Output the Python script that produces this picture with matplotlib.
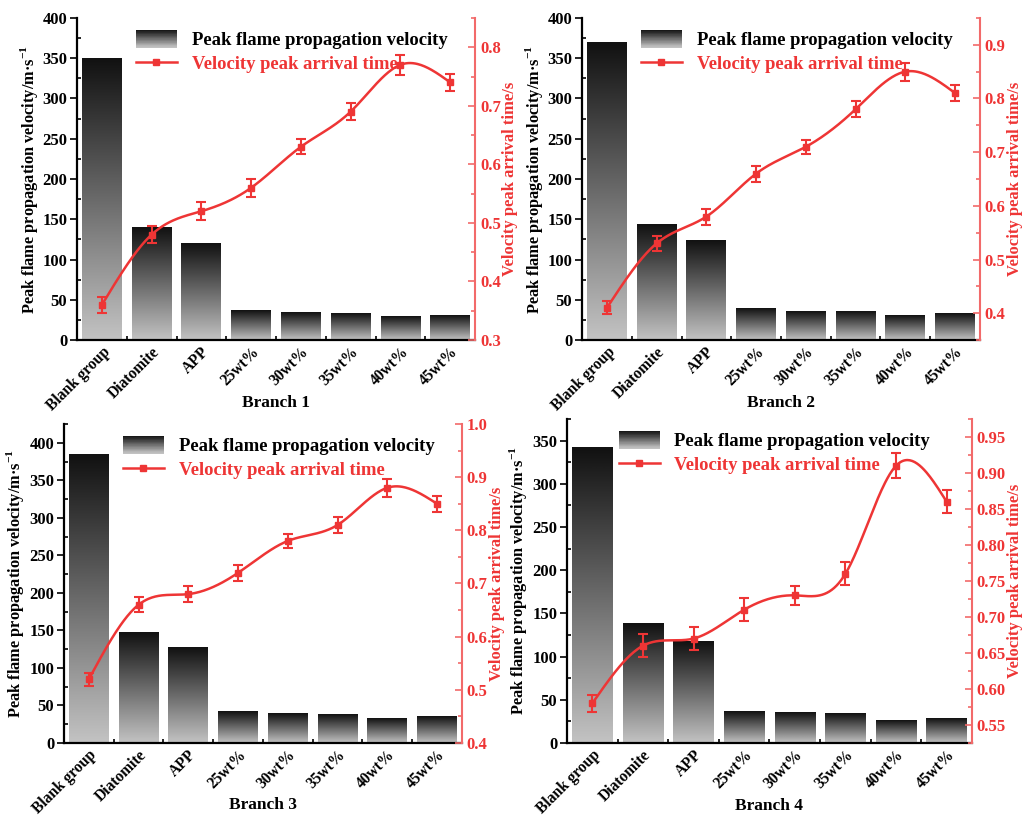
import matplotlib
matplotlib.use("Agg")
import matplotlib.pyplot as plt
import matplotlib.transforms as mtransforms
import numpy as np
from matplotlib.legend_handler import HandlerBase
from matplotlib.lines import Line2D
from matplotlib.patches import Patch, Rectangle
from matplotlib.ticker import MultipleLocator

plt.rcParams["font.family"] = ["Liberation Serif", "DejaVu Serif"]
plt.rcParams["font.weight"] = "bold"
plt.rcParams["axes.labelweight"] = "bold"
plt.rcParams["mathtext.fontset"] = "custom"
plt.rcParams["mathtext.bf"] = "Liberation Serif:bold"

# ── Data ───────────────────────────────────────────────────────────────────────
categories = ["Blank group", "Diatomite", "APP", "25wt%", "30wt%",
              "35wt%", "40wt%", "45wt%"]
branches = ["Branch 1", "Branch 2", "Branch 3", "Branch 4"]

velocity_b1 = [349, 140, 120, 37, 34, 33, 29, 31]
velocity_b2 = [369, 144, 124, 39, 36, 36, 30, 33]
velocity_b3 = [385, 147, 127, 42, 39, 38, 32, 35]
velocity_b4 = [342, 138, 118, 36, 35, 34, 26, 28]

time_b1 = [0.36, 0.48, 0.52, 0.56, 0.63, 0.69, 0.77, 0.74]
time_b2 = [0.41, 0.53, 0.58, 0.66, 0.71, 0.78, 0.85, 0.81]
time_b3 = [0.52, 0.66, 0.68, 0.72, 0.78, 0.81, 0.88, 0.85]
time_b4 = [0.58, 0.66, 0.67, 0.71, 0.73, 0.76, 0.91, 0.86]

err_b1 = [0.013, 0.015, 0.015, 0.015, 0.013, 0.015, 0.017, 0.015]
err_b2 = [0.012, 0.014, 0.015, 0.015, 0.013, 0.015, 0.017, 0.015]
err_b3 = [0.012, 0.014, 0.015, 0.015, 0.013, 0.015, 0.017, 0.015]
err_b4 = [0.012, 0.016, 0.016, 0.016, 0.013, 0.016, 0.017, 0.016]

velocities = [velocity_b1, velocity_b2, velocity_b3, velocity_b4]
times = [time_b1, time_b2, time_b3, time_b4]
errors = [err_b1, err_b2, err_b3, err_b4]

# axes rectangles (figure fraction) and axis settings per panel
AX_RECTS = [
    [0.0752, 0.5833, 0.3887, 0.3947],
    [0.5684, 0.5833, 0.3886, 0.3947],
    [0.0625, 0.0895, 0.3885, 0.3909],
    [0.5537, 0.0895, 0.3955, 0.3971],
]
LEFT_LIM = [(0, 400), (0, 400), (0, 425), (0, 375)]
RIGHT_LIM = [(0.3, 0.85), (0.35, 0.95), (0.4, 1.0), (0.525, 0.975)]
RIGHT_MAJOR = [0.1, 0.1, 0.1, 0.05]
RIGHT_FMT = ["{:.1f}", "{:.1f}", "{:.1f}", "{:.2f}"]
LEGEND_X = [0.12, 0.12, 0.12, 0.10]

RED = "#EE3535"
SPINE_RED = "#F26A6A"
GRAD_TOP = np.array([0x12, 0x12, 0x12]) / 255
GRAD_BOT = np.array([0xC2, 0xC2, 0xC2]) / 255


def gradient_image(n=64):
    t = np.linspace(0, 1, n)[:, None]
    rgb = GRAD_TOP * (1 - t) + GRAD_BOT * t
    return rgb[:, None, :]


def natural_spline(x, y, n=300):
    """Natural cubic spline through (x, y), evaluated on n points."""
    x = np.asarray(x, float)
    y = np.asarray(y, float)
    k = len(x)
    h = np.diff(x)
    A = np.zeros((k, k))
    b = np.zeros(k)
    A[0, 0] = A[-1, -1] = 1.0
    for i in range(1, k - 1):
        A[i, i - 1] = h[i - 1]
        A[i, i] = 2 * (h[i - 1] + h[i])
        A[i, i + 1] = h[i]
        b[i] = 6 * ((y[i + 1] - y[i]) / h[i] - (y[i] - y[i - 1]) / h[i - 1])
    M = np.linalg.solve(A, b)
    xs = np.linspace(x[0], x[-1], n)
    idx = np.clip(np.searchsorted(x, xs) - 1, 0, k - 2)
    x0, x1 = x[idx], x[idx + 1]
    hh = x1 - x0
    a = (x1 - xs) / hh
    c = (xs - x0) / hh
    ys = (a * y[idx] + c * y[idx + 1]
          + ((a ** 3 - a) * M[idx] + (c ** 3 - c) * M[idx + 1]) * hh ** 2 / 6)
    return xs, ys


class HandlerGradient(HandlerBase):
    """Legend patch drawn as a vertical dark-to-light gradient."""

    def create_artists(self, legend, orig_handle, xdescent, ydescent,
                       width, height, fontsize, trans):
        n = 30
        arts = []
        img = gradient_image(n)[:, 0, :]
        hgt = height * 1.35
        y0 = -ydescent - (hgt - height) / 2
        for i in range(n):
            r = Rectangle((-xdescent, y0 + hgt * (n - 1 - i) / n), width,
                          hgt / n + 0.3, facecolor=img[i], edgecolor="none",
                          transform=trans)
            arts.append(r)
        return arts


fig = plt.figure(figsize=(10.24, 8.16), dpi=100)
x = np.arange(len(categories))
grad = gradient_image()
bar_w = 0.8
# rotated category labels sit slightly right of (and close under) their tick
label_shift = mtransforms.ScaledTranslation(9 / 100, 6 / 100,
                                            fig.dpi_scale_trans)

for p in range(4):
    ax = fig.add_axes(AX_RECTS[p])
    ax2 = ax.twinx()

    # gradient bars
    for xi, v in zip(x, velocities[p]):
        ax.imshow(grad, extent=[xi - bar_w / 2, xi + bar_w / 2, 0, v],
                  aspect="auto", zorder=2, interpolation="bilinear")
    ax.set_xlim(-0.5, len(categories) - 0.5)
    ax.set_ylim(*LEFT_LIM[p])
    ax.yaxis.set_major_locator(MultipleLocator(50))
    ax.yaxis.set_minor_locator(MultipleLocator(25))
    ax.set_xticks(x)
    ax.set_xticks(x[:-1] + 0.5, minor=True)
    ax.set_xticklabels(categories, rotation=45, ha="right",
                       rotation_mode="anchor", fontsize=11.2,
                       fontweight="bold")
    for lab in ax.get_xticklabels():
        lab.set_transform(lab.get_transform() + label_shift)
    ax.tick_params(axis="x", which="major", direction="in", length=5,
                   width=1.2, pad=3)
    ax.tick_params(axis="x", which="minor", direction="in", length=3,
                   width=1.2)
    ax.tick_params(axis="y", which="major", direction="out", length=5,
                   width=1.2, labelsize=12, pad=2)
    ax.tick_params(axis="y", which="minor", direction="in", length=3,
                   width=1.2)
    for lab in ax.get_yticklabels():
        lab.set_fontweight("bold")
    ax.set_ylabel("Peak flame propagation velocity/m·s$^{\\mathbf{-1}}$",
                  fontsize=11.8, fontweight="bold", labelpad=2)
    ax.set_xlabel(branches[p], fontsize=12.5, fontweight="bold")
    ax.xaxis.set_label_coords(0.5, -0.195)
    ax.xaxis.label.set_verticalalignment("center")
    ax.spines["top"].set_visible(False)
    ax.spines["right"].set_visible(False)
    for s in ("left", "bottom"):
        ax.spines[s].set_linewidth(1.6)

    # arrival time curve
    xs, ys = natural_spline(x, times[p])
    ax2.plot(xs, ys, color=RED, lw=1.8, zorder=3)
    ax2.errorbar(x, times[p], yerr=errors[p], fmt="s", color=RED, ms=4.5,
                 elinewidth=1.5, capsize=3.5, capthick=1.5, zorder=4)
    ax2.set_ylim(*RIGHT_LIM[p])
    step = RIGHT_MAJOR[p]
    ax2.yaxis.set_minor_locator(MultipleLocator(step / 2))
    first = np.ceil(RIGHT_LIM[p][0] / step - 1e-6) * step
    rticks = np.round(np.arange(first, RIGHT_LIM[p][1] + 1e-9, step), 3)
    ax2.set_yticks(rticks)
    ax2.set_yticklabels([RIGHT_FMT[p].format(t) for t in rticks],
                        fontsize=12, fontweight="bold", color=RED)
    ax2.tick_params(axis="y", which="both", direction="in", colors=SPINE_RED,
                    width=1.2)
    ax2.tick_params(axis="y", which="major", length=5)
    ax2.tick_params(axis="y", which="minor", length=3)
    for lab in ax2.get_yticklabels():
        lab.set_color(RED)
    ax2.set_ylabel("Velocity peak arrival time/s", color=RED, fontsize=12,
                   fontweight="bold", labelpad=1)
    ax2.spines["right"].set_color(SPINE_RED)
    ax2.spines["right"].set_linewidth(1.5)
    ax2.spines["top"].set_visible(False)
    ax2.spines["left"].set_visible(False)
    ax2.spines["bottom"].set_visible(False)

    bar_handle = Patch(label="Peak flame propagation velocity")
    line_handle = Line2D([], [], color=RED, lw=1.8, marker="s", ms=4.5,
                         label="Velocity peak arrival time")
    leg = ax2.legend(handles=[bar_handle, line_handle], loc="upper left",
                     bbox_to_anchor=(LEGEND_X[p], 0.99), frameon=False,
                     prop={"size": 13.4, "weight": "bold"},
                     handlelength=2.2, handletextpad=0.8,
                     labelspacing=0.35, borderaxespad=0.2,
                     handler_map={Patch: HandlerGradient()})
    leg.get_texts()[1].set_color(RED)

fig.savefig("out.png", dpi=100)
